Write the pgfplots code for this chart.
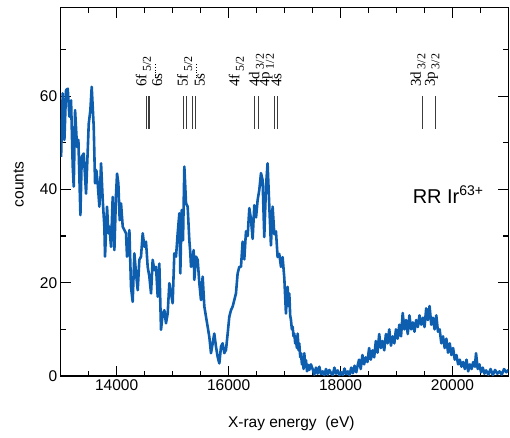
\documentclass[border=0pt]{standalone}
\usepackage{pgfplots}
\pgfplotsset{compat=1.18}
\usepackage{fontspec}
\setmainfont{Liberation Sans}
\newfontfamily\annfont{Liberation Serif}
\definecolor{specblue}{RGB}{14,94,176}
\definecolor{linegray}{RGB}{60,60,60}

% radiative-recombination spectrum, Ir63+
\pgfplotstableread{
E count
13007 47.0
13036 60.6
13066 50.6
13096 61.3
13126 61.6
13155 55.6
13185 59.1
13215 44.9
13233 40.6
13257 57.0
13292 49.1
13316 50.6
13352 34.5
13376 47.0
13411 47.7
13453 39.1
13483 48.4
13501 54.1
13530 57.0
13554 62.0
13590 53.4
13614 41.3
13637 44.1
13661 41.3
13691 36.3
13721 45.6
13751 37.7
13780 32.0
13792 25.6
13828 36.3
13852 30.6
13870 32.0
13899 27.7
13929 38.4
13959 27.0
13989 39.1
14007 43.4
14030 41.3
14054 33.4
14078 37.0
14108 32.0
14137 31.3
14167 30.6
14185 25.6
14209 26.3
14227 31.3
14256 19.1
14286 15.9
14316 26.3
14346 22.0
14376 18.4
14405 24.9
14435 25.6
14465 30.6
14495 27.7
14524 28.8
14554 23.4
14584 21.3
14614 17.7
14643 24.9
14673 22.7
14703 23.4
14733 17.0
14762 24.1
14792 9.9
14822 13.4
14852 14.1
14881 11.3
14911 13.4
14941 19.9
14971 17.7
15000 15.6
15030 26.3
15060 25.6
15090 30.6
15120 34.9
15137 22.0
15161 35.6
15185 29.1
15209 44.9
15239 37.0
15268 36.3
15298 29.1
15316 26.3
15328 23.4
15358 24.9
15375 27.0
15387 20.6
15417 25.6
15447 24.9
15477 19.9
15506 16.3
15536 21.3
15566 14.9
15596 12.7
15625 10.6
15655 8.4
15685 4.9
15715 7.0
15744 9.1
15774 6.3
15804 4.1
15834 2.7
15864 6.3
15893 7.0
15923 4.9
15953 5.6
15983 9.1
16012 12.7
16042 14.1
16072 14.9
16102 16.3
16131 17.7
16161 22.0
16191 23.4
16221 23.4
16250 28.8
16280 25.0
16310 31.0
16340 30.0
16370 36.0
16400 33.5
16429 29.4
16459 36.6
16490 34.0
16518 37.7
16548 39.9
16578 43.5
16607 42.0
16637 29.8
16667 40.5
16696 45.6
16727 36.3
16756 28.0
16786 36.3
16816 30.4
16846 31.0
16875 25.5
16905 26.2
16935 23.4
16964 25.5
16995 21.0
17024 13.4
17040 17.0
17054 19.1
17070 15.0
17084 17.7
17100 13.0
17114 12.0
17130 10.0
17143 10.6
17160 8.5
17173 9.1
17190 7.0
17203 7.7
17220 6.0
17233 9.1
17250 5.5
17262 7.0
17280 4.0
17292 4.9
17310 2.5
17322 3.4
17340 1.5
17352 4.9
17370 2.0
17382 3.4
17400 1.0
17420 2.4
17441 1.3
17470 2.5
17500 1.5
17530 0.3
17560 1.8
17590 0.5
17620 2.0
17650 0.4
17680 1.0
17710 0.2
17740 1.5
17770 0.3
17800 1.3
17830 0.6
17860 0.2
17890 1.8
17920 0.5
17950 1.2
17980 0.2
18010 0.8
18040 0.2
18070 1.6
18100 0.4
18130 1.0
18160 0.2
18190 1.8
18220 0.6
18250 2.2
18280 0.8
18300 2.0
18330 3.5
18360 1.5
18390 4.5
18420 2.5
18450 4.0
18480 3.0
18510 6.0
18540 3.5
18570 5.5
18600 4.0
18630 7.5
18660 5.0
18690 9.0
18720 6.0
18750 7.5
18780 5.5
18810 9.0
18840 7.0
18870 10.0
18900 6.5
18930 8.5
18960 7.0
18990 10.0
19020 8.0
19050 11.0
19080 8.5
19110 13.5
19140 10.0
19170 12.0
19200 9.0
19230 13.0
19260 10.0
19290 11.5
19320 9.5
19350 12.0
19380 10.5
19410 13.0
19440 11.0
19470 12.5
19500 10.5
19530 14.5
19560 12.0
19590 15.0
19620 11.0
19650 12.5
19680 10.0
19710 13.0
19740 9.5
19770 10.0
19800 7.0
19830 8.5
19860 6.0
19890 8.0
19920 5.0
19950 7.0
19980 4.5
20010 6.0
20040 3.5
20070 4.5
20100 2.5
20130 3.5
20160 2.0
20190 3.0
20220 1.5
20250 3.5
20280 1.0
20310 2.5
20340 1.5
20370 3.0
20400 2.0
20420 4.9
20450 1.5
20480 2.5
20510 0.8
20540 1.8
20570 0.5
20600 1.2
20640 0.3
20680 1.5
20720 0.2
20760 1.3
20800 0.5
20840 1.0
20880 0.3
20920 1.5
20960 0.8
21000 1.3
}\spectrum

% level label with a lowered index
\newcommand{\lvl}[2]{#1\,\raisebox{-4.5pt}{\fontsize{12}{14}\selectfont #2}}

\begin{document}
\begin{tikzpicture}
\begin{axis}[
  scale only axis,
  width=447.8pt, height=368.5pt,
  xmin=13000, xmax=21000, ymin=0, ymax=79,
  xtick={14000,16000,18000,20000},
  minor xtick={13000,13500,...,21000},
  ytick={0,20,40,60},
  minor ytick={10,30,50,70},
  tick align=inside,
  major tick length=10pt, minor tick length=5pt,
  axis line style={line width=1.2pt, black},
  every tick/.style={line width=1.2pt, black},
  scaled x ticks=false,
  /pgf/number format/assume math mode=true,
  xticklabel style={/pgf/number format/1000 sep={}},
  ticklabel style={font=\fontsize{15.5}{18}\selectfont},
  xlabel={X-ray energy\ \ (eV)},
  ylabel={counts},
  label style={font=\fontsize{15.5}{18}\selectfont},
  xlabel style={at={(axis description cs:0.515,0)}, anchor=base, yshift=-51pt},
  ylabel style={at={(axis description cs:-0.094,0.52)}, anchor=center},
  clip mode=individual,
]
\addplot[specblue, line width=2.6pt, line join=round] table[x=E, y=count] {\spectrum};

% level markers
\pgfplotsinvokeforeach{14530,14560,14590,15191,15239,15357,15405,16459,16530,16816,16875,19464,19704}{
  \draw[linegray, line width=1pt] (axis cs:#1,53) -- (axis cs:#1,60);
}

\begin{scope}[every node/.style={rotate=90, anchor=base west, inner sep=0pt, font=\annfont\fontsize{15}{17}\selectfont}]
  \node at (axis cs:14530,62) {\lvl{6f}{5/2}};
  \node at (axis cs:14810,62) {6s};
  \node at (axis cs:15268,62) {\lvl{5f}{5/2}};
  \node at (axis cs:15570,62) {5s};
  \node at (axis cs:16191,62) {\lvl{4f}{5/2}};
  \node at (axis cs:16548,62) {\lvl{4d}{3/2}};
  \node at (axis cs:16727,62) {\lvl{4p}{1/2}};
  \node at (axis cs:16941,62) {4s};
  \node at (axis cs:19436,62) {\lvl{3d}{3/2}};
  \node at (axis cs:19686,62) {\lvl{3p}{3/2}};
\end{scope}
\draw[black, line width=1pt, dash pattern=on 1pt off 1.6pt] (axis cs:14690,63.8) -- (axis cs:14690,66.8);
\draw[black, line width=1pt, dash pattern=on 1pt off 1.6pt] (axis cs:15430,63.8) -- (axis cs:15430,66.8);

\node[anchor=base west, inner sep=0pt, font=\fontsize{20}{24}\selectfont] at (axis cs:19286,37) {RR Ir\textsuperscript{63+}};
\end{axis}
\pgfresetboundingbox
\useasboundingbox (-60.7pt,-61pt) rectangle (449.3pt,376pt);
\end{tikzpicture}
\end{document}
